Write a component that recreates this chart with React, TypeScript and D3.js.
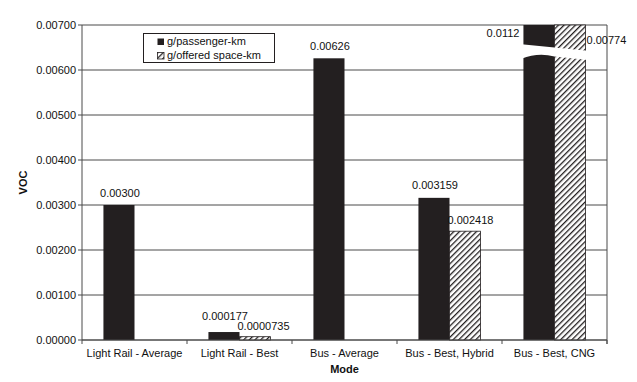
import React from "react";
import * as d3 from "d3";

const categories = [
  "Light Rail - Average",
  "Light Rail - Best",
  "Bus - Average",
  "Bus - Best, Hybrid",
  "Bus - Best, CNG",
];
const passengerValues: (number | null)[] = [0.003, 0.000177, 0.00626, 0.003159, 0.0112];
const offeredValues: (number | null)[] = [null, 0.0000735, null, 0.002418, 0.00774];
const passengerLabels: (string | null)[] = ["0.00300", "0.000177", "0.00626", "0.003159", "0.0112"];
const offeredLabels: (string | null)[] = [null, "0.0000735", null, "0.002418", "0.00774"];
const yTicks = [0, 0.001, 0.002, 0.003, 0.004, 0.005, 0.006, 0.007];
const seriesKeys = ["passenger", "offered"];
const legendNames = ["g/passenger-km", "g/offered space-km"];

const W = 637;
const H = 382;
const M = { left: 82, right: 30, top: 25, bottom: 42 };
const FONT = "'Liberation Sans', Arial, sans-serif";
const DARK = "#231f20";
const GRID = "#4a4a4a";

export default function App() {
  const x0 = d3.scaleBand<string>().domain(categories).range([M.left, W - M.right]).padding(0);
  const x1 = d3
    .scaleBand<string>()
    .domain(seriesKeys)
    .range([0, x0.bandwidth()])
    .paddingInner(0)
    .paddingOuter(0.69);
  const y = d3.scaleLinear().domain([0, 0.007]).range([H - M.bottom, M.top]);
  const yMax = 0.007;
  const fmt = d3.format(".5f");
  const bw = x1.bandwidth();

  const barY = (v: number) => y(Math.min(v, yMax));
  const barH = (v: number) => y(0) - barY(v);

  return (
    <svg
      width={W}
      height={H}
      style={{ position: "absolute", left: 0, top: 0, background: "#fff" }}
      fontFamily={FONT}
    >
      <defs>
        <pattern id="hatch" patternUnits="userSpaceOnUse" width={4} height={4} patternTransform="rotate(45)">
          <rect width={4} height={4} fill="#fff" />
          <line x1={0} y1={0} x2={0} y2={4} stroke={DARK} strokeWidth={2.6} />
        </pattern>
      </defs>

      {/* gridlines */}
      {yTicks.map((t) => (
        <line key={"g" + t} x1={M.left} x2={W - M.right} y1={y(t)} y2={y(t)} stroke={GRID} strokeWidth={1} />
      ))}
      {/* right border */}
      <line x1={W - M.right} x2={W - M.right} y1={M.top} y2={y(0) + 4} stroke={GRID} strokeWidth={1} />

      {/* y axis */}
      <line x1={M.left} x2={M.left} y1={M.top} y2={y(0)} stroke={GRID} strokeWidth={1} />
      {yTicks.map((t) => (
        <g key={"t" + t}>
          <line x1={M.left - 4} x2={M.left} y1={y(t)} y2={y(t)} stroke={GRID} />
          <text x={M.left - 6} y={y(t) + 4} textAnchor="end" fontSize={11} fill="#111">
            {fmt(t)}
          </text>
        </g>
      ))}

      {/* x axis */}
      {[...categories.map((c) => x0(c) as number), W - M.right].map((xv, i) => (
        <line key={"xt" + i} x1={xv} x2={xv} y1={y(0)} y2={y(0) + 4} stroke={GRID} />
      ))}
      {categories.map((c) => (
        <text key={"cl" + c} x={(x0(c) as number) + x0.bandwidth() / 2} y={357} textAnchor="middle" fontSize={11} fill="#111">
          {c}
        </text>
      ))}

      {/* bars */}
      {categories.map((c, i) => {
        const bx = x0(c) as number;
        const pv = passengerValues[i];
        const ov = offeredValues[i];
        const px = bx + (x1("passenger") as number);
        const ox = bx + (x1("offered") as number);
        return (
          <g key={"b" + c}>
            {pv != null && <rect x={px} y={barY(pv)} width={bw} height={barH(pv)} fill={DARK} />}
            {ov != null && (
              <rect x={ox} y={barY(ov)} width={bw} height={barH(ov)} fill="url(#hatch)" stroke={DARK} strokeWidth={0.8} />
            )}
          </g>
        );
      })}

      {/* axis line over bars */}
      <line x1={M.left} x2={W - M.right} y1={y(0)} y2={y(0)} stroke={GRID} strokeWidth={1} />

      {/* break on the clipped bars */}
      {categories.map((c, i) => {
        const pv = passengerValues[i];
        if (pv == null || pv <= yMax) return null;
        const bx = x0(c) as number;
        const xl = bx + (x1("passenger") as number) - 2;
        const xm = bx + (x1("offered") as number);
        const xr = xm + bw + 2;
        const xc = (xl + xm) / 2;
        const yTopL = y(0.00657);
        const yTopR = y(0.00643);
        const yBotL = y(0.00625);
        const yBotC = y(0.00633);
        const yBotM = y(0.0063);
        const yBotR = y(0.00622);
        const d = `M${xl},${yTopL} L${xr},${yTopR} L${xr},${yBotR} L${xm},${yBotM} Q${xc},${yBotC - 3} ${xl},${yBotL} Z`;
        return <path key={"br" + c} d={d} fill="#fff" />;
      })}

      {/* value labels */}
      {categories.map((c, i) => {
        const bx = x0(c) as number;
        const pv = passengerValues[i];
        const ov = offeredValues[i];
        const px = bx + (x1("passenger") as number);
        const ox = bx + (x1("offered") as number);
        const items: React.ReactNode[] = [];
        if (pv != null && passengerLabels[i]) {
          if (pv > yMax) {
            items.push(
              <text key="p" x={px - 4} y={M.top + 12} textAnchor="end" fontSize={11} fill="#111">
                {passengerLabels[i]}
              </text>
            );
          } else {
            const off = pv < 0.0005 ? 12 : 8.5;
            items.push(
              <text key="p" x={px + bw / 2 + 1} y={barY(pv) - off} textAnchor="middle" fontSize={11} fill="#111">
                {passengerLabels[i]}
              </text>
            );
          }
        }
        if (ov != null && offeredLabels[i]) {
          if (ov > yMax) {
            items.push(
              <text key="o" x={ox + bw + 1} y={M.top + 19} textAnchor="start" fontSize={11} fill="#111">
                {offeredLabels[i]}
              </text>
            );
          } else {
            items.push(
              <text key="o" x={ox - 2} y={barY(ov) - 7} textAnchor="start" fontSize={11} fill="#111">
                {offeredLabels[i]}
              </text>
            );
          }
        }
        return <g key={"l" + c}>{items}</g>;
      })}

      {/* legend */}
      <g>
        <rect x={143.5} y={33.5} width={131} height={29} fill="#fff" stroke={DARK} strokeWidth={1} />
        {legendNames.map((n, i) => (
          <g key={n}>
            <rect
              x={157.5}
              y={38.5 + i * 14}
              width={6.5}
              height={6.5}
              fill={i === 0 ? DARK : "url(#hatch)"}
              stroke={DARK}
              strokeWidth={i === 0 ? 0 : 0.8}
            />
            <text x={167} y={45 + i * 14} fontSize={11} fill="#111">
              {n}
            </text>
          </g>
        ))}
      </g>

      {/* axis titles */}
      <text x={(M.left + W - M.right) / 2} y={373} textAnchor="middle" fontSize={11} fontWeight="bold" fill="#111">
        Mode
      </text>
      <text transform={`translate(27,${(M.top + y(0)) / 2}) rotate(-90)`} textAnchor="middle" fontSize={11} fontWeight="bold" fill="#111">
        VOC
      </text>
    </svg>
  );
}
